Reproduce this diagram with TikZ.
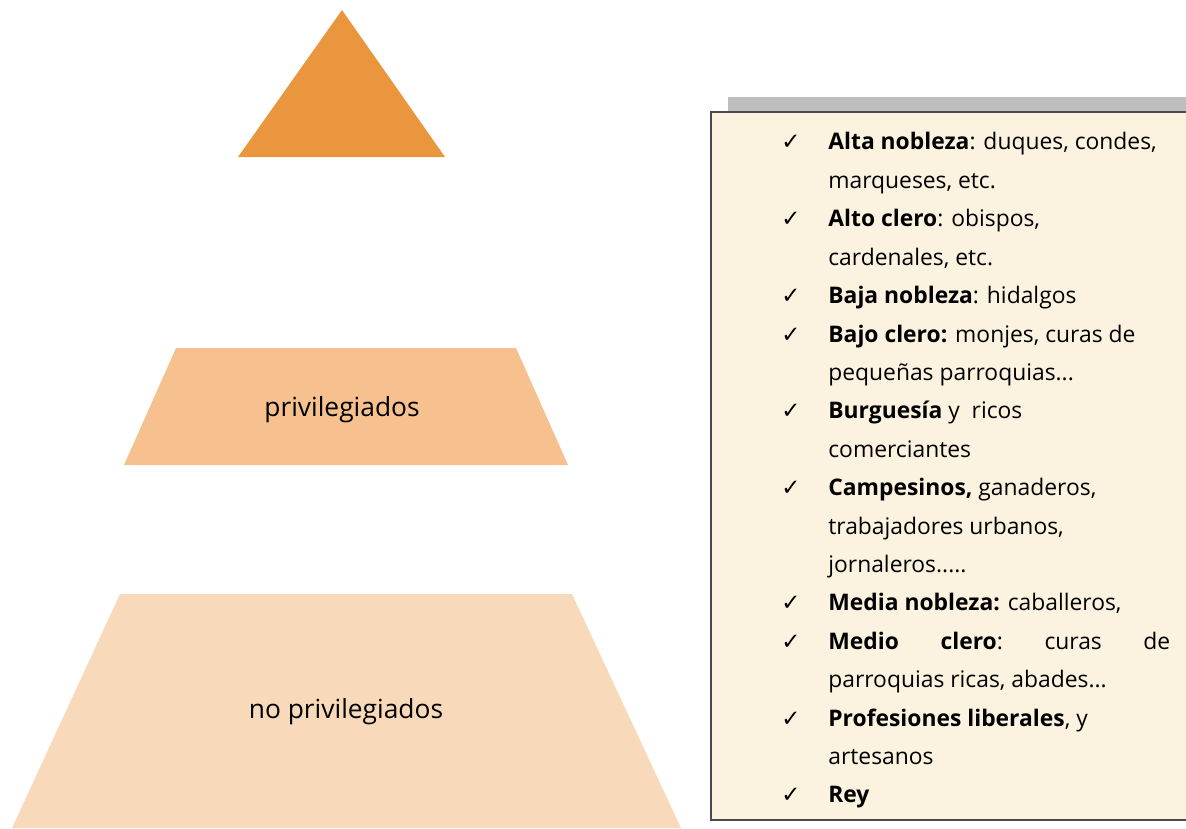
\documentclass[tikz,border=0pt]{standalone}
\usepackage{fontspec}
\setmainfont{Open Sans}
\newfontfamily\checkfont{DejaVu Sans}
\usetikzlibrary{positioning}
\definecolor{apexorange}{HTML}{E9963F}
\definecolor{midtier}{HTML}{F6C18F}
\definecolor{basetier}{HTML}{F8DABA}
\definecolor{parchment}{HTML}{FBF3E0}
\definecolor{shadowgray}{HTML}{BEBEBE}
\definecolor{framegray}{HTML}{4A4A4A}

\begin{document}
\begin{tikzpicture}[
        x=0.02cm, y=-0.02cm,
        tier/.style  = {font=\fontsize{15}{18}\selectfont},
        entry/.style = {anchor=base west, inner sep=0pt, font=\fontsize{13}{16}\selectfont},
        tick/.style  = {anchor=base west, inner sep=0pt, font=\checkfont\fontsize{13}{16}\selectfont},
    ]
        \useasboundingbox (0,0) rectangle (1186,828);
        \fill[apexorange] (342,10) -- (445,157) -- (238,157) -- cycle;
        \fill[midtier] (176,348) -- (516,348) -- (568,465) -- (124,465) -- cycle;
        \fill[basetier] (120,594) -- (572,594) -- (681,828) -- (12,828) -- cycle;
        \node[tier] (priv)   at (342,410) {privilegiados};
        \node[tier] (nopriv) at (346,712) {no privilegiados};
        \fill[shadowgray] (728,97) rectangle (1200,805);
        \draw[framegray, line width=1.2pt, fill=parchment] (711,112) rectangle (1200,820);
        \foreach \k/\txt in {
            1/{\textbf{Alta nobleza}: duques, condes,},
            2/{marqueses, etc.},
            3/{\textbf{Alto clero}: obispos,},
            4/{cardenales, etc.},
            5/{\textbf{Baja nobleza}: hidalgos},
            6/{\textbf{Bajo clero:} monjes, curas de},
            7/{pequeñas parroquias...},
            8/{\textbf{Burguesía} y\ \ ricos},
            9/{comerciantes},
            10/{\textbf{Campesinos,} ganaderos,},
            11/{trabajadores urbanos,},
            12/{jornaleros.....},
            13/{\textbf{Media nobleza:} caballeros,},
            14/{\makebox[6.84cm][s]{\textbf{Medio}\hfill\textbf{clero}:\hfill curas\hfill de}},
            15/{parroquias ricas, abades...},
            16/{\textbf{Profesiones liberales}, y},
            17/{artesanos},
            18/{\textbf{Rey}}}
            \node[entry] (line\k) at (828,{150+(\k-1)*38.4}) {\txt};
        \foreach \k in {1,3,5,6,8,10,13,14,16,18}
            \node[tick] (tick\k) at (781,{150+(\k-1)*38.4}) {✓};
    \end{tikzpicture}
\end{document}
